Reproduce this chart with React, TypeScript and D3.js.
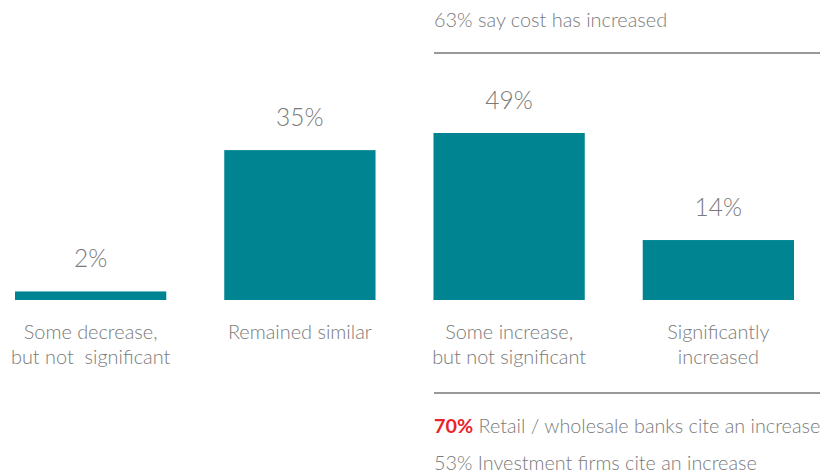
import React from "react";
import * as d3 from "d3";

const categories = ["Some decrease,|but not  significant", "Remained similar", "Some increase,|but not significant", "Significantly|increased"];
const values = [2, 35, 49, 14];
const valueLabels = ["2%", "35%", "49%", "14%"];
const topNote = "63% say cost has increased";
const notes = [
  { bold: "70%", rest: " Retail / wholesale banks cite an increase" },
  { bold: "", rest: "53% Investment firms cite an increase" },
];

const W = 823, H = 475;
const FONT = "Lato, 'Open Sans', sans-serif";
const GREY = "#7a7a7a";
const TEAL = "#008491";

export default function App() {
  const x = d3.scaleBand<string>().domain(categories).range([15, 794]).paddingInner(0.277).paddingOuter(0);
  const y = d3.scaleLinear().domain([0, 39]).range([300, 133]).clamp(true);
  return (
    <svg width={W} height={H} style={{ position: "absolute", left: 0, top: 0 }}>
      <text x={434} y={27} fontFamily={FONT} fontWeight={300} fontSize={19.9} fill={GREY}>{topNote}</text>
      <line x1={434} x2={820} y1={53} y2={53} stroke="#777" strokeWidth={1.5} />
      {categories.map((c, i) => {
        const bx = x(c)!;
        const bw = x.bandwidth();
        const top = y(values[i]);
        const lines = c.split("|");
        return (
          <g key={c}>
            <rect x={bx} y={top} width={bw} height={y(0) - top} fill={TEAL} />
            <text x={bx + bw / 2} y={top - 24} textAnchor="middle" fontFamily={FONT} fontWeight={300} fontSize={24.5} fill={GREY}>{valueLabels[i]}</text>
            {lines.map((l, j) => (
              <text key={j} x={bx + bw / 2} y={339 + j * 25} textAnchor="middle" fontFamily={FONT} fontWeight={300} fontSize={19.9} fill={GREY} style={{ whiteSpace: "pre" }}>{l}</text>
            ))}
          </g>
        );
      })}
      <line x1={434} x2={820} y1={393} y2={393} stroke="#777" strokeWidth={1.5} />
      {notes.map((n, i) => (
        <text key={i} x={434} y={433 + i * 37} fontFamily={FONT} fontWeight={300} fontSize={19.8} fill={GREY}>
          {n.bold && <tspan fill="#e8242b" fontWeight={700}>{n.bold}</tspan>}
          <tspan>{n.rest}</tspan>
        </text>
      ))}
    </svg>
  );
}
